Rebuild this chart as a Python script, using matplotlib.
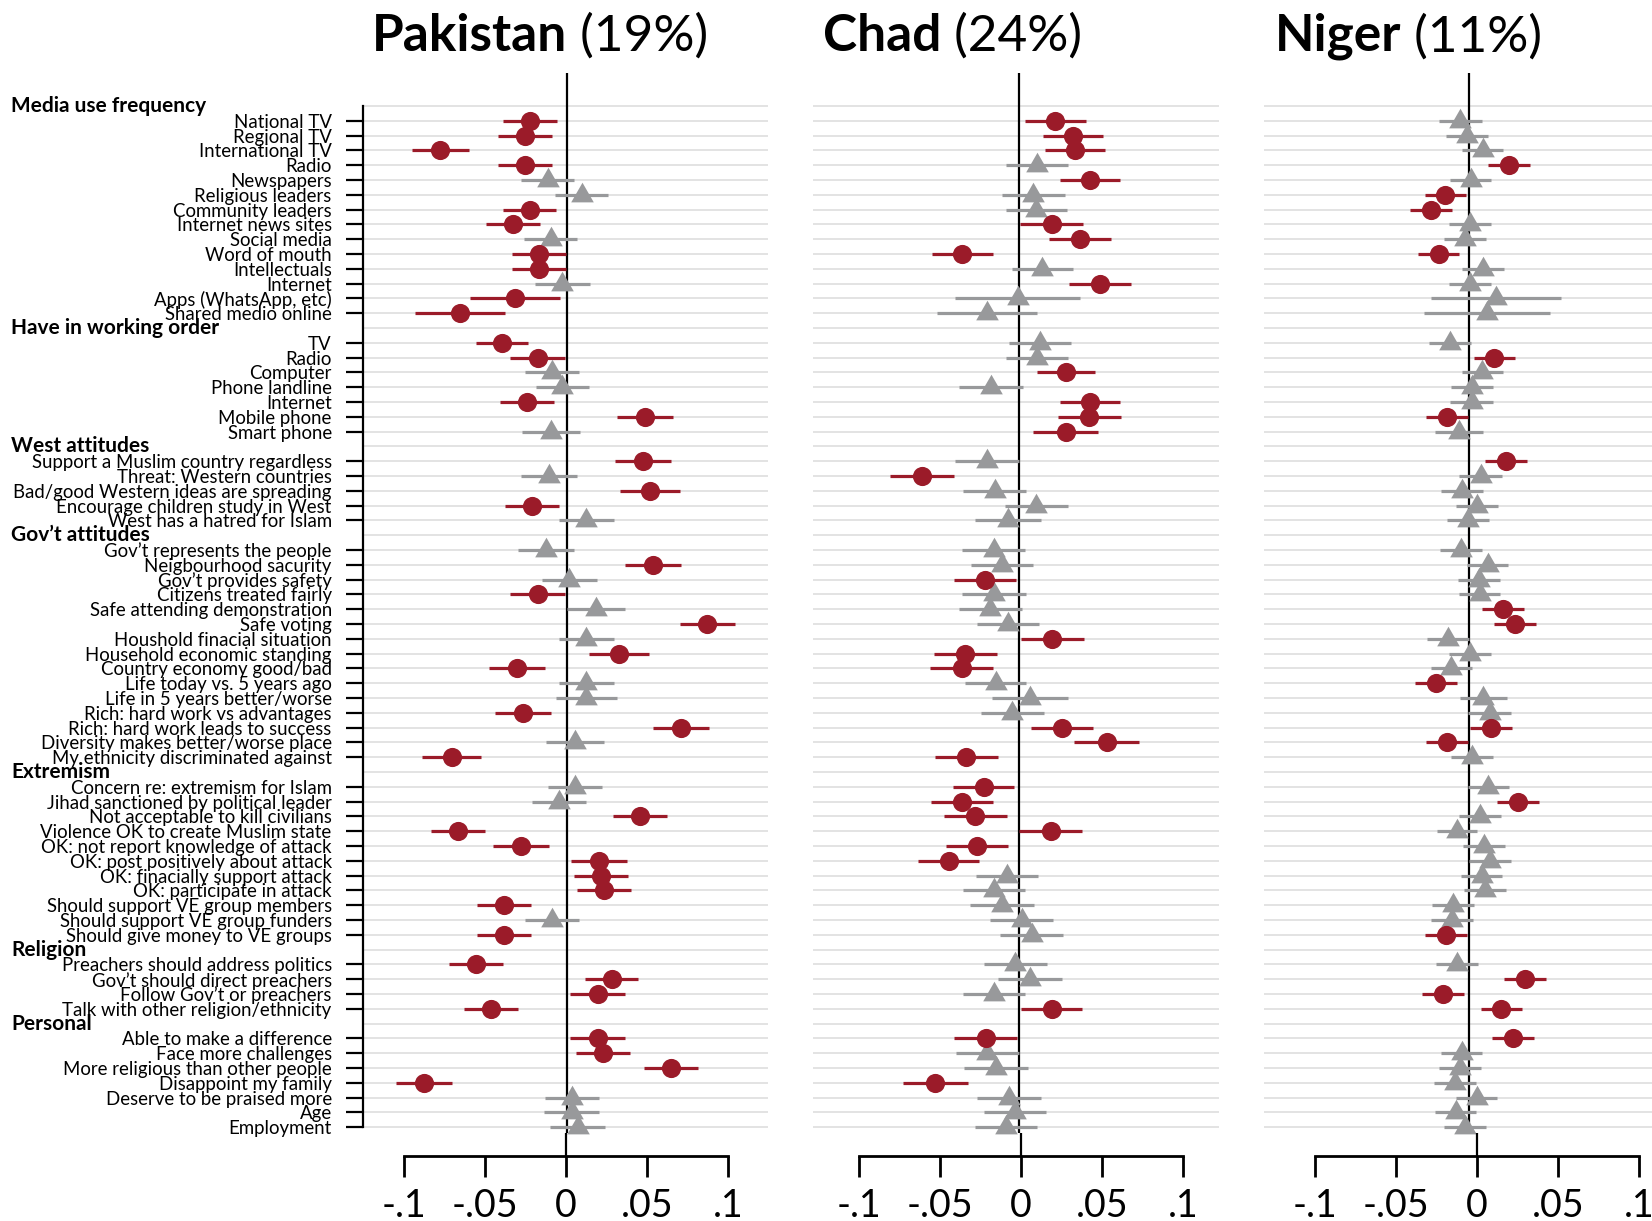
import matplotlib
matplotlib.use("Agg")
import matplotlib.pyplot as plt
from matplotlib.transforms import blended_transform_factory
import numpy as np

plt.rcParams['font.family'] = ['Lato', 'DejaVu Sans']

# ---------------- data ----------------
groups = ["Media use frequency", "Have in working order", "West attitudes",
          "Gov’t attitudes", "Extremism", "Religion", "Personal"]

media_items = ["National TV", "Regional TV", "International TV", "Radio", "Newspapers",
               "Religious leaders", "Community leaders", "Internet news sites", "Social media",
               "Word of mouth", "Intellectuals", "Internet", "Apps (WhatsApp, etc)",
               "Shared medio online"]
have_items = ["TV", "Radio", "Computer", "Phone landline", "Internet", "Mobile phone", "Smart phone"]
west_items = ["Support a Muslim country regardless", "Threat: Western countries",
              "Bad/good Western ideas are spreading", "Encourage children study in West",
              "West has a hatred for Islam"]
gov_items = ["Gov’t represents the people", "Neigbourhood sacurity", "Gov’t provides safety",
             "Citizens treated fairly", "Safe attending demonstration", "Safe voting",
             "Houshold finacial situation", "Household economic standing",
             "Country economy good/bad", "Life today vs. 5 years ago",
             "Life in 5 years better/worse", "Rich: hard work vs advantages",
             "Rich: hard work leads to success", "Diversity makes better/worse place",
             "My ethnicity discriminated against"]
ext_items = ["Concern re: extremism for Islam", "Jihad sanctioned by political leader",
             "Not acceptable to kill civilians", "Violence OK to create Muslim state",
             "OK: not report knowledge of attack", "OK: post positively about attack",
             "OK: finacially support attack", "OK: participate in attack",
             "Should support VE group members", "Should support VE group funders",
             "Should give money to VE groups"]
rel_items = ["Preachers should address politics", "Gov’t should direct preachers",
             "Follow Gov’t or preachers", "Talk with other religion/ethnicity"]
pers_items = ["Able to make a difference", "Face more challenges",
              "More religious than other people", "Disappoint my family",
              "Deserve to be praised more", "Age", "Employment"]
group_items = [media_items, have_items, west_items, gov_items, ext_items, rel_items, pers_items]

countries = ["Pakistan", "Chad", "Niger"]
shares = ["(19%)", "(24%)", "(11%)"]

pak_est = [-0.023, -0.026, -0.078, -0.026, -0.012, 0.009, -0.023, -0.033, -0.010, -0.0175,
           -0.0175, -0.003, -0.032, -0.066,
           -0.040, -0.018, -0.009, -0.003, -0.0245, 0.048, -0.010,
           0.047, -0.011, 0.051, -0.0215, 0.012,
           -0.013, 0.053, 0.0015, -0.018, 0.018, 0.0865, 0.012, 0.032, -0.031, 0.012, 0.012,
           -0.027, 0.070, 0.005, -0.071,
           0.005, -0.005, 0.045, -0.067, -0.0285, 0.0195, 0.021, 0.023, -0.039, -0.009, -0.039,
           -0.056, 0.0275, 0.019, -0.047,
           0.019, 0.022, 0.064, -0.088, 0.003, 0.003, 0.0067]
pak_hw = [0.0167, 0.0166, 0.0175, 0.0166, 0.0163, 0.0161, 0.0164, 0.0166, 0.0164, 0.0166,
          0.0166, 0.017, 0.0279, 0.0276,
          0.0161, 0.0169, 0.0166, 0.0163, 0.0166, 0.0173, 0.0178,
          0.0173, 0.0173, 0.0183, 0.0167, 0.0169,
          0.0173, 0.0172, 0.0169, 0.017, 0.0178, 0.017, 0.0172, 0.0186, 0.0172, 0.0167, 0.019,
          0.0172, 0.0172, 0.0178, 0.0181,
          0.0167, 0.0166, 0.0166, 0.0166, 0.0172, 0.0172, 0.0167, 0.0166, 0.0167, 0.0166, 0.0167,
          0.0166, 0.0164, 0.017, 0.0167,
          0.0169, 0.0167, 0.0164, 0.0172, 0.0167, 0.017, 0.0169]
pak_sig = [1, 1, 1, 1, 0, 0, 1, 1, 0, 1, 1, 0, 1, 1,
           1, 1, 0, 0, 1, 1, 0,
           1, 0, 1, 1, 0,
           0, 1, 0, 1, 0, 1, 0, 1, 1, 0, 0, 1, 1, 0, 1,
           0, 0, 1, 1, 1, 1, 1, 1, 1, 0, 1,
           1, 1, 1, 1,
           1, 1, 1, 1, 0, 0, 0]

chad_est = [0.0224, 0.0333, 0.0345, 0.0109, 0.0437, 0.0088, 0.0107, 0.0201, 0.0376, -0.0349,
            0.0144, 0.0499, -0.0008, -0.0195,
            0.0131, 0.0109, 0.0289, -0.0174, 0.0439, 0.0433, 0.0289,
            -0.0197, -0.0597, -0.015, 0.0107, -0.0066,
            -0.0156, -0.0103, -0.0209, -0.0154, -0.0177, -0.0066, 0.0205, -0.033, -0.0353,
            -0.0144, 0.007, -0.0041, 0.0263, 0.054, -0.0324,
            -0.0216, -0.0349, -0.0269, 0.0195, -0.0257, -0.0433, -0.0074, -0.0156, -0.0103,
            0.0016, 0.008,
            -0.0023, 0.007, -0.0154, 0.0203,
            -0.0205, -0.0197, -0.014, -0.0515, -0.0062, -0.0023, -0.0078]
chad_hw = [0.019, 0.0186, 0.0185, 0.019, 0.0184, 0.0193, 0.019, 0.0193, 0.0191, 0.0189,
           0.0188, 0.0191, 0.0384, 0.0307,
           0.019, 0.019, 0.0181, 0.0197, 0.0185, 0.0195, 0.02,
           0.0195, 0.0199, 0.0193, 0.0192, 0.0202,
           0.0194, 0.019, 0.019, 0.0197, 0.0195, 0.0191, 0.0193, 0.0195, 0.0195, 0.0189, 0.0234,
           0.0196, 0.0191, 0.0199, 0.0195,
           0.0188, 0.019, 0.0194, 0.0194, 0.0191, 0.0189, 0.0189, 0.0191, 0.0196, 0.0193, 0.0194,
           0.0195, 0.0197, 0.0192, 0.0188,
           0.0194, 0.0194, 0.0197, 0.0201, 0.0197, 0.0192, 0.019]
chad_sig = [1, 1, 1, 0, 1, 0, 0, 1, 1, 1, 0, 1, 0, 0,
            0, 0, 1, 0, 1, 1, 1,
            0, 1, 0, 0, 0,
            0, 0, 1, 0, 0, 0, 1, 1, 1, 0, 0, 0, 1, 1, 1,
            1, 1, 1, 1, 1, 1, 0, 0, 0, 0, 0,
            0, 0, 0, 1,
            1, 0, 0, 1, 0, 0, 0]

niger_est = [-0.0053, -0.0012, 0.0084, 0.0247, 0.001, -0.0147, -0.0235, 0.0004, -0.0027,
             -0.0186, 0.0086, 0.0004, 0.0167, 0.011,
             -0.0116, 0.0157, 0.0082, 0.002, 0.0016, -0.0137, -0.0061,
             0.0227, 0.0071, -0.0045, 0.0051, -0.0006,
             -0.0049, 0.0114, 0.0059, 0.0065, 0.0208, 0.0286, -0.0129, 0.0004, -0.0108, -0.0204,
             0.0088, 0.0127, 0.0137, -0.0133, 0.002,
             0.0118, 0.0304, 0.0069, -0.0073, 0.0094, 0.0127, 0.0078, 0.0098, -0.0098, -0.0102,
             -0.0143,
             -0.0073, 0.0343, -0.0159, 0.02,
             0.0269, -0.0045, -0.0055, -0.0086, 0.0047, -0.0082, -0.0024]
niger_hw = [0.013, 0.0129, 0.0128, 0.013, 0.0128, 0.0127, 0.0129, 0.0129, 0.0129, 0.0127,
            0.0127, 0.0129, 0.040, 0.039,
            0.013, 0.0128, 0.0126, 0.0128, 0.013, 0.0128, 0.0149,
            0.0131, 0.0133, 0.0129, 0.013, 0.0128,
            0.0128, 0.0124, 0.0129, 0.0127, 0.0128, 0.0129, 0.0129, 0.0129, 0.0128, 0.0131,
            0.0146, 0.0132, 0.0129, 0.0129, 0.013,
            0.0127, 0.0129, 0.0129, 0.0124, 0.0129, 0.013, 0.0128, 0.0128, 0.0127, 0.0129, 0.0128,
            0.0128, 0.013, 0.013, 0.0129,
            0.0129, 0.0127, 0.0129, 0.0128, 0.0127, 0.0127, 0.0127]
niger_sig = [0, 0, 0, 1, 0, 1, 1, 0, 0, 1, 0, 0, 0, 0,
             0, 1, 0, 0, 0, 1, 0,
             1, 0, 0, 0, 0,
             0, 0, 0, 0, 1, 1, 0, 0, 0, 1, 0, 0, 1, 1, 0,
             0, 1, 0, 0, 0, 0, 0, 0, 0, 0, 1,
             0, 1, 1, 1,
             1, 0, 0, 0, 0, 0, 0]

ticks = [-0.1, -0.05, 0, 0.05, 0.1]
tick_labels = ["-.1", "-.05", "0", ".05", ".1"]

# ---------------- layout ----------------
W, H = 1652, 1221
fig = plt.figure(figsize=(W / 100, H / 100), dpi=100)
fig.patch.set_facecolor("white")

RED = "#9b1b29"
GREY = "#98999b"
GRID = "#e1e1e1"

ROW0, DY = 106.0, 14.8
TOP, BOT, AXLINE = 73.0, 1133.0, 1156.0
SCALE = 1624.0

# row positions
header_rows, item_rows, item_labels = [], [], []
r = 0
for g, items in zip(groups, group_items):
    header_rows.append(r)
    r += 1
    for it in items:
        item_rows.append(r)
        item_labels.append(it)
        r += 1
n_rows = r
item_rows = np.array(item_rows)

tri = [(0, 1.3), (-1.15, -0.7), (1.15, -0.7)]

panel_geom = [  # zero px, left px, right px, bottom-axis offset, title x
    (567, 363, 768, -1, 372),
    (1019, 813, 1219, 2, 823),
    (1469, 1264, 1652, 8, 1275),
]
data = [(pak_est, pak_hw, pak_sig), (chad_est, chad_hw, chad_sig),
        (niger_est, niger_hw, niger_sig)]


def px_axes(x0, y0, x1, y1):
    return fig.add_axes([x0 / W, 1 - y1 / H, (x1 - x0) / W, (y1 - y0) / H])


for k, (name, share, geom, (est, hw, sig)) in enumerate(zip(countries, shares, panel_geom, data)):
    zero, x0, x1, off, tx = geom
    est = np.array(est)
    hw = np.array(hw)
    sig = np.array(sig, dtype=bool)
    xlim = ((x0 - zero) / SCALE, (x1 - zero) / SCALE)

    ax = px_axes(x0, TOP, x1, BOT)
    ax.set_xlim(*xlim)
    ax.set_ylim((BOT - ROW0) / DY, (TOP - ROW0) / DY)
    ax.patch.set_alpha(0)
    for s in ax.spines.values():
        s.set_visible(False)
    ax.set_xticks([])

    for rr in range(n_rows):
        ax.axhline(rr, color=GRID, lw=1.3, zorder=1)
    ax.axvline(0, color="black", lw=1.6, zorder=2)

    ax.hlines(item_rows[sig], est[sig] - hw[sig], est[sig] + hw[sig], color=RED, lw=2.3, zorder=3)
    ax.hlines(item_rows[~sig], est[~sig] - hw[~sig], est[~sig] + hw[~sig], color=GREY, lw=2.3,
              zorder=3)
    ax.plot(est[~sig], item_rows[~sig], linestyle="none", marker=tri, ms=18.4, color=GREY,
            mec="none", zorder=4, clip_on=False)
    ax.plot(est[sig], item_rows[sig], linestyle="none", marker="o", ms=13.8, color=RED,
            mec="none", zorder=5, clip_on=False)

    if k == 0:
        ax.spines["left"].set_visible(True)
        ax.spines["left"].set_linewidth(1.6)
        ax.spines["left"].set_bounds(0, n_rows - 1)
        ax.set_yticks(item_rows)
        ax.set_yticklabels(item_labels, fontsize=13.4)
        ax.tick_params(axis="y", length=12, width=1.6, pad=10.5, direction="out")
        trans = blended_transform_factory(fig.transFigure, ax.transData)
        for g, hr in zip(groups, header_rows):
            ax.text(11 / W, hr, g, transform=trans, fontsize=15, fontweight="bold",
                    ha="left", va="center")
    else:
        ax.set_yticks([])

    # bottom scale axis
    axb = px_axes(x0 + off, BOT, x1 + off, AXLINE)
    axb.set_xlim(*xlim)
    axb.set_ylim(0, 1)
    axb.patch.set_alpha(0)
    for side in ["top", "left", "right"]:
        axb.spines[side].set_visible(False)
    axb.spines["bottom"].set_linewidth(2)
    axb.spines["bottom"].set_bounds(ticks[0], ticks[-1])
    axb.set_xticks(ticks)
    axb.set_xticklabels(tick_labels)
    axb.set_yticks([])
    axb.tick_params(axis="x", length=15, width=2, pad=8, labelsize=27, direction="out")
    axb.axvline(0, color="black", lw=1.6)

    # title
    t = fig.text(tx / W, 1 - 50.6 / H, name, fontsize=37, fontweight="bold",
                 ha="left", va="baseline")
    ax.annotate(" " + share, xy=(1, 0), xycoords=t, fontsize=37, ha="left", va="bottom",
                annotation_clip=False)

fig.savefig("out.png", dpi=100, facecolor="white")
